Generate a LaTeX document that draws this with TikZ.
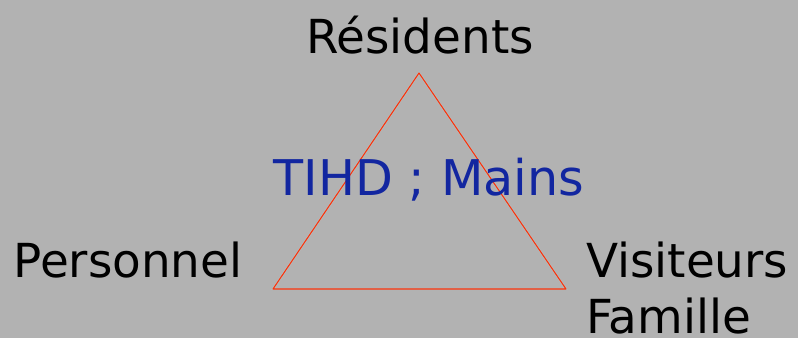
\documentclass[tikz,border=0pt]{standalone}
\usepackage{fontspec}
\setmainfont{DejaVu Sans}
\definecolor{fond}{RGB}{178,178,178}
\definecolor{rouge}{RGB}{250,50,10}
\definecolor{bleu}{RGB}{18,38,160}

\begin{document}
\begin{tikzpicture}[x=0.03cm,y=-0.03cm,
    etiq/.style={font=\fontsize{40}{47}\selectfont,inner sep=0pt}]
  \fill [fond] (0,0) rectangle (798,338);
  \useasboundingbox (0,0) rectangle (798,338);
  \coordinate (r) at (419,73);
  \coordinate (p) at (273,289);
  \coordinate (v) at (566,289);
  \draw [black!25,line width=2pt,opacity=0.5,shift={(1,3)}] (r) -- (p) -- (v) -- cycle;
  \draw [rouge,line width=0.9pt,line join=round] (r) -- (p) -- (v) -- cycle;
  \node [etiq,anchor=base] (res) at (420,54) {Résidents};
  \node [etiq,anchor=base] (pers) at (128,278) {Personnel};
  \node [etiq,anchor=base west] (vis) at (586,278) {Visiteurs};
  \node [etiq,anchor=base west] (fam) at (586,333) {Famille};
  \node [etiq,font=\fontsize{42}{50}\selectfont,text=bleu,anchor=base] (tihd) at (429,196) {TIHD ; Mains};
\end{tikzpicture}
\end{document}
